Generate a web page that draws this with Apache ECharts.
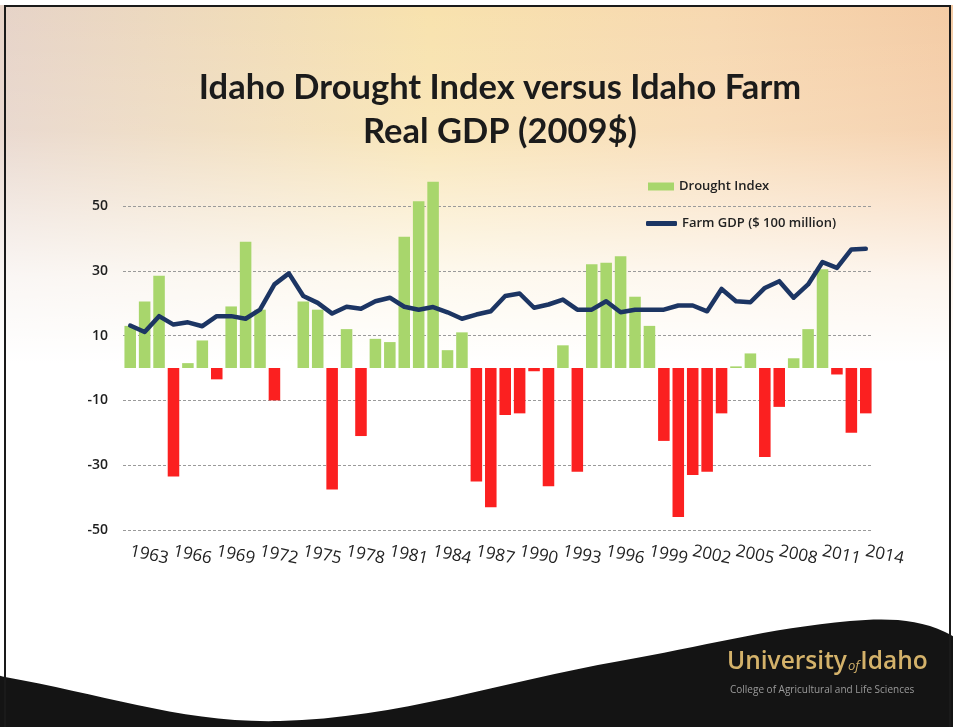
<!DOCTYPE html>
<html>
<head>
<meta charset="utf-8">
<title>Idaho Drought Index versus Idaho Farm Real GDP</title>
<script src="https://cdn.jsdelivr.net/npm/echarts@6/dist/echarts.min.js"></script>
<style>
  html, body { margin: 0; padding: 0; background: #fff; }
  #chart { width: 953px; height: 727px; }
</style>
</head>
<body>
<div id="chart"></div>
<script>
// years on the category axis
var years = [
  "1963", "1964", "1965", "1966", "1967", "1968", "1969", "1970", "1971", "1972",
  "1973", "1974", "1975", "1976", "1977", "1978", "1979", "1980", "1981", "1982",
  "1983", "1984", "1985", "1986", "1987", "1988", "1989", "1990", "1991", "1992",
  "1993", "1994", "1995", "1996", "1997", "1998", "1999", "2000", "2001", "2002",
  "2003", "2004", "2005", "2006", "2007", "2008", "2009", "2010", "2011", "2012",
  "2013", "2014"
];

// drought index (bars)
var droughtIndex = [
  13, 20.5, 28.5, -33.5, 1.5, 8.5, -3.5, 19, 39, 18,
  -10, 0, 20.5, 18, -37.5, 12, -21, 9, 8, 40.5,
  51.5, 57.5, 5.5, 11, -35, -43, -14.5, -14, -1, -36.5,
  7, -32, 32, 32.5, 34.5, 22, 13, -22.5, -46, -33,
  -32, -14, 0.5, 4.5, -27.5, -12, 3, 12, 30.5, -2,
  -20, -14
];

// farm GDP, $ 100 million (line)
var farmGdp = [
  13.1, 11.1, 16, 13.4, 14.1, 12.9, 16, 16, 15.2, 18,
  25.8, 29.2, 22.2, 20.1, 16.8, 18.9, 18.3, 20.6, 21.7, 18.9,
  18, 18.8, 17.2, 15.2, 16.5, 17.5, 22.2, 23, 18.6, 19.6,
  21.1, 18, 18, 20.6, 17.2, 18, 18, 18, 19.3, 19.3,
  17.5, 24.4, 20.6, 20.3, 24.7, 26.8, 21.7, 25.8, 32.7, 30.9,
  36.6, 36.8
];

var seriesNames = ["Drought Index", "Farm GDP ($ 100 million)"];

var GREEN = "#a8d66c";
var RED = "#fb2020";
var NAVY = "#1c3563";

var chart = echarts.init(document.getElementById("chart"));

var option = {
  backgroundColor: "#fff",
  animation: false,
  textStyle: { fontFamily: "Open Sans" },
  title: {
    text: "Idaho Drought Index versus Idaho Farm\nReal GDP (2009$)",
    left: 495,
    top: 61,
    textAlign: "center",
    textStyle: {
      fontFamily: "Lato",
      fontSize: 34.5,
      fontWeight: "bold",
      color: "#1b1b1b",
      lineHeight: 44
    }
  },
  legend: [
    {
      data: [{ name: seriesNames[0], icon: "rect", itemStyle: { color: GREEN } }],
      left: 643,
      top: 175,
      itemWidth: 26,
      itemHeight: 8,
      textStyle: { fontSize: 13, color: "#222", fontWeight: 600 }
    },
    {
      data: [{ name: seriesNames[1], icon: "roundRect", itemStyle: { color: NAVY } }],
      left: 641,
      top: 212,
      itemWidth: 31,
      itemHeight: 5,
      textStyle: { fontSize: 13, color: "#222", fontWeight: 600 }
    }
  ],
  grid: {
    left: 123,
    right: 80,
    top: 206,
    bottom: 197,
    containLabel: false
  },
  xAxis: {
    type: "category",
    data: years,
    axisLine: { show: false, onZero: false },
    axisTick: { show: false },
    axisLabel: {
      interval: 2,
      rotate: -12,
      margin: 21,
      fontSize: 17,
      color: "#222"
    }
  },
  yAxis: {
    type: "value",
    min: -50,
    max: 50,
    interval: 20,
    axisLine: { show: false },
    axisTick: { show: false },
    axisLabel: {
      margin: 15,
      fontSize: 14,
      fontWeight: 600,
      color: "#1e1e1e"
    },
    splitLine: {
      lineStyle: { color: "#9a9a9a", type: [3, 2], width: 1 }
    }
  },
  series: [
    {
      name: seriesNames[0],
      type: "bar",
      data: droughtIndex,
      barCategoryGap: "20%",
      clip: false,
      itemStyle: {
        color: function (p) {
          return p.value < 0 ? RED : GREEN;
        }
      }
    },
    {
      name: seriesNames[1],
      type: "line",
      data: farmGdp,
      symbol: "none",
      z: 5,
      itemStyle: { color: NAVY },
      lineStyle: { color: NAVY, width: 4.5, join: "round", cap: "round" }
    }
  ],
  graphic: [
    // warm slide background
    {
      type: "rect",
      z: -20,
      silent: true,
      shape: { x: 0, y: 0, width: 953, height: 727 },
      style: {
        fill: new echarts.graphic.LinearGradient(0, 0, 1, 0, [
          { offset: 0, color: "#e6d3c8" },
          { offset: 0.45, color: "#f8e2ad" },
          { offset: 0.75, color: "#f7d8b0" },
          { offset: 1, color: "#f4cba4" }
        ])
      }
    },
    {
      type: "rect",
      z: -19,
      silent: true,
      shape: { x: 0, y: 0, width: 953, height: 727 },
      style: {
        fill: new echarts.graphic.LinearGradient(0, 0, 0, 1, [
          { offset: 0, color: "rgba(255,255,255,0)" },
          { offset: 0.18, color: "rgba(255,255,255,0.15)" },
          { offset: 0.38, color: "rgba(255,255,255,0.8)" },
          { offset: 0.5, color: "rgba(255,255,255,1)" },
          { offset: 1, color: "rgba(255,255,255,1)" }
        ])
      }
    },
    // black swoosh at the bottom
    {
      type: "polygon",
      z: -18,
      silent: true,
      shape: {
        points: [[-60, 662], [5, 677], [280, 721], [620, 661], [850, 621], [945, 632], [1010, 700], [1010, 790], [-60, 790]],
        smooth: 0.35
      },
      style: { fill: "#141414" }
    },
    // scanned slide frame
    {
      type: "rect",
      z: -17,
      silent: true,
      shape: { x: 5, y: 6, width: 945, height: 730 },
      style: { fill: "none", stroke: "#1a1a1a", lineWidth: 2 }
    },
    {
      type: "rect",
      z: -17,
      silent: true,
      shape: { x: 0, y: 0, width: 953, height: 5 },
      style: { fill: "#fff" }
    },
    // university logo
    {
      type: "text",
      z: 10,
      silent: true,
      left: 727,
      top: 650,
      style: {
        text: "{u|University}{o|of}{u|Idaho}",
        rich: {
          u: { fontFamily: "Open Sans", fontSize: 24.5, fontWeight: 600, fill: "#d4b26a" },
          o: { fontFamily: "Open Sans", fontSize: 13, fontStyle: "italic", fill: "#d4b26a", padding: [7, 1, 0, 1] }
        }
      }
    },
    {
      type: "text",
      z: 10,
      silent: true,
      left: 730,
      top: 685,
      style: {
        text: "College of Agricultural and Life Sciences",
        fontFamily: "Open Sans",
        fontSize: 10,
        fill: "#9a9a9a"
      }
    }
  ]
};

chart.setOption(option);
</script>
</body>
</html>
